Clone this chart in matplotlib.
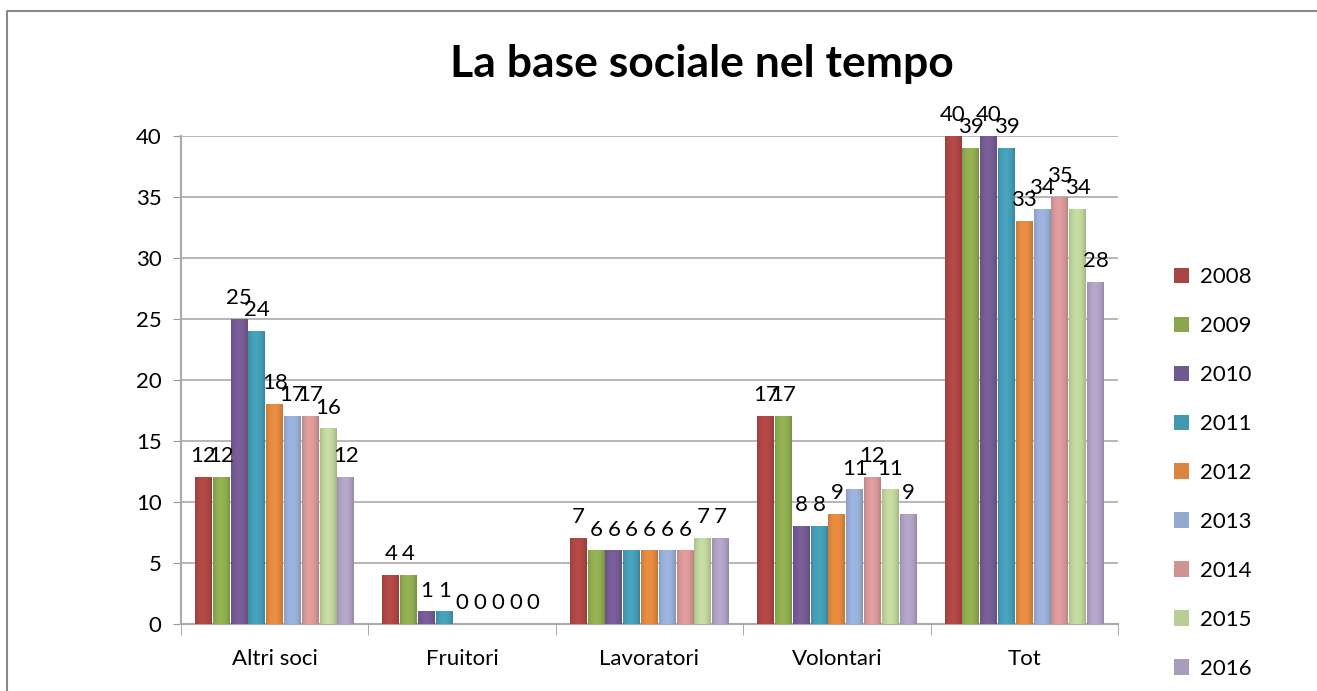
import numpy as np
import matplotlib.pyplot as plt
from matplotlib.colors import to_rgb
from matplotlib.lines import Line2D

categories = ["Altri soci", "Fruitori", "Lavoratori", "Volontari", "Tot"]
years = ["2008", "2009", "2010", "2011", "2012", "2013", "2014", "2015", "2016"]
values = {
    "2008": [12, 4, 7, 17, 40],
    "2009": [12, 4, 6, 17, 39],
    "2010": [25, 1, 6, 8, 40],
    "2011": [24, 1, 6, 8, 39],
    "2012": [18, 0, 6, 9, 33],
    "2013": [17, 0, 6, 11, 34],
    "2014": [17, 0, 6, 12, 35],
    "2015": [16, 0, 7, 11, 34],
    "2016": [12, 0, 7, 9, 28],
}
colors = ["#A84442", "#8AA64D", "#71588F", "#4198AF", "#DB843D",
          "#93A9CF", "#D19392", "#B9CD96", "#A99BBD"]

plt.rcParams['font.family'] = ['Lato', 'DejaVu Sans']


def cylinder(ax, bar, color):
    # horizontal shading to mimic the rounded excel columns
    x0, y0 = bar.get_x(), bar.get_y()
    w, h = bar.get_width(), bar.get_height()
    if h <= 0:
        return
    c = np.array(to_rgb(color))
    t = np.linspace(0, 1, 40)
    shade = 0.78 + 0.3 * np.sin(np.pi * (t * 0.85 + 0.1)) ** 0.6
    img = np.clip(c[None, :] * shade[:, None], 0, 1)[None, :, :]
    ax.imshow(img, extent=(x0, x0 + w, y0, y0 + h), aspect="auto",
              interpolation="bilinear", zorder=3.5)


fig = plt.figure(figsize=(13.17, 6.91), dpi=100)
ax = fig.add_axes([0.1374, 0.097, 0.7115, 0.7062])

# outer frame of the chart (only left and top edges are in view)
fig.add_artist(Line2D([0.0055, 0.0055, 1.0], [0.0, 0.9835, 0.9835],
                      transform=fig.transFigure, color="#888888", linewidth=1.5))

x = np.arange(len(categories))
n = len(years)
w = 0.855 / n
for i, yr in enumerate(years):
    pos = x - 0.4275 + w * (i + 0.5)
    bars = ax.bar(pos, values[yr], width=w * 0.95, color=colors[i],
                  edgecolor="none", label=yr, zorder=3)
    for b in bars:
        cylinder(ax, b, colors[i])
    for p, v in zip(pos, values[yr]):
        ax.annotate(str(v), (p, v), xytext=(0, 8), textcoords="offset points",
                    ha="center", va="bottom", fontsize=16, zorder=5)

ax.set_xlim(-0.5, len(categories) - 0.5)
ax.set_ylim(0, 40)
ax.set_yticks(range(0, 41, 5))
ax.tick_params(axis="y", labelsize=16, length=6, color="#999999", pad=8)
ax.set_xticks(x)
ax.set_xticklabels(categories)
ax.set_xticks(np.arange(len(categories) + 1) - 0.5, minor=True)
ax.tick_params(axis="x", which="major", length=0, labelsize=16, pad=18)
ax.tick_params(axis="x", which="minor", length=8, color="#999999")
ax.yaxis.grid(True, color="#AAAAAA", linewidth=1.2, zorder=0)
ax.set_axisbelow(True)
for s in ["top", "right"]:
    ax.spines[s].set_visible(False)
for s in ["left", "bottom"]:
    ax.spines[s].set_color("#AAAAAA")
    ax.spines[s].set_linewidth(1.5)

fig.text(0.533, 0.907, "La base sociale nel tempo", ha="center", va="center",
         fontsize=32, fontweight="bold")

handles, labels = ax.get_legend_handles_labels()
leg = fig.legend(handles, labels, loc="center left", bbox_to_anchor=(0.876, 0.3155),
                 frameon=False, fontsize=16, handlelength=0.7, handleheight=0.7,
                 labelspacing=1.3, handletextpad=0.5)

fig.savefig("out.png", dpi=100)
